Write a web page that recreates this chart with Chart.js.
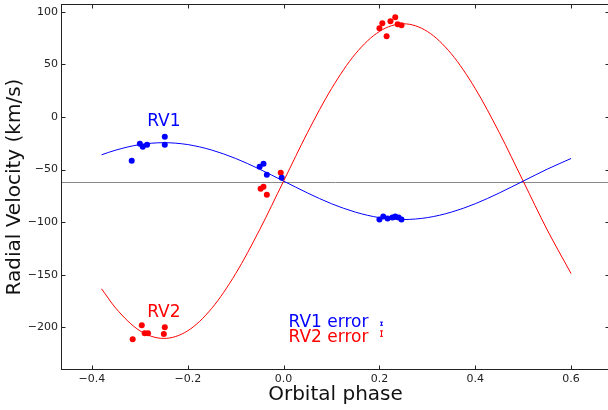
<!DOCTYPE html>
<html>
<head>
<meta charset="utf-8">
<script src="https://cdn.jsdelivr.net/npm/chart.js@4.4.0/dist/chart.umd.min.js"></script>
<style>
html, body { margin: 0; padding: 0; background: #fff; overflow: hidden; }
#wrap { width: 608px; height: 410px; overflow: hidden; }
</style>
</head>
<body>
<div id="wrap"><canvas id="rv" width="616" height="410"></canvas></div>
<script>
const rv1Phase = [-0.317, -0.300, -0.294, -0.285, -0.248, -0.248, -0.050, -0.042, -0.035, -0.004,
                  0.200, 0.208, 0.217, 0.227, 0.233, 0.240, 0.246];
const rv1Vel = [-41.7, -25.6, -28.4, -26.5, -18.9, -26.5, -47.3, -44.5, -54.9, -57.8,
                -97.5, -94.7, -96.6, -95.6, -94.7, -95.6, -97.5];
const rv2Phase = [-0.315, -0.296, -0.290, -0.283, -0.248, -0.250, -0.048, -0.042, -0.035, -0.006,
                  0.200, 0.206, 0.215, 0.223, 0.233, 0.238, 0.246];
const rv2Vel = [-211.2, -197.9, -205.5, -205.5, -199.8, -206.4, -68.2, -66.3, -73.9, -53.0,
                84.3, 89.0, 76.7, 90.9, 94.7, 88.1, 87.1];

const fitPhase = [-0.38, -0.35, -0.30, -0.25, -0.20, -0.15, -0.10, -0.05, 0.00, 0.05, 0.10,
                  0.15, 0.20, 0.25, 0.30, 0.35, 0.40, 0.45, 0.50, 0.55, 0.60];
const fit1 = [-36.0, -31.5, -26.3, -24.5, -26.3, -31.5, -39.5, -49.7, -61.0, -72.3, -82.5,
              -90.5, -95.7, -97.5, -95.7, -90.5, -82.5, -72.3, -61.0, -49.7, -39.5];
const fit2 = [-163.3, -181.9, -203.2, -210.5, -203.2, -181.9, -148.9, -107.2, -61.0, -14.8, 26.9,
              60.0, 81.2, 88.5, 81.2, 60.0, 26.9, -14.8, -61.0, -107.2, -148.9];

const gammaVel = -61.5;
const xTicks = [-0.4, -0.2, 0.0, 0.2, 0.4, 0.6];
const yTicks = [-200, -150, -100, -50, 0, 50, 100];

// typical error bars shown in the lower middle
const errPhase = 0.204;
const rv1ErrVel = -196.5, rv1Err = 1.5;
const rv2ErrVel = -205.9, rv2Err = 2.6;

const BLUE = '#0000ff';
const RED = '#ff0000';
const FONT = 'DejaVu Sans';

function pts(xs, ys) {
    return xs.map((x, i) => ({ x: x, y: ys[i] }));
}

function minus(s) {
    return String(s).replace('-', '\u2212');
}

const decor = {
    id: 'decor',
    beforeDatasetsDraw(chart) {
        const { ctx, chartArea: a, scales: { y } } = chart;
        const gy = Math.round(y.getPixelForValue(gammaVel)) + 0.5;
        ctx.save();
        ctx.strokeStyle = '#888';
        ctx.lineWidth = 1;
        ctx.beginPath();
        ctx.moveTo(a.left, gy);
        ctx.lineTo(a.right, gy);
        ctx.stroke();
        ctx.restore();
    },
    afterDatasetsDraw(chart) {
        const { ctx, scales: { x, y } } = chart;
        ctx.save();
        ctx.font = '17px "' + FONT + '"';
        ctx.textBaseline = 'middle';
        ctx.textAlign = 'center';
        ctx.fillStyle = BLUE;
        ctx.fillText('RV1', x.getPixelForValue(-0.25), y.getPixelForValue(-4.5));
        ctx.fillStyle = RED;
        ctx.fillText('RV2', x.getPixelForValue(-0.25), y.getPixelForValue(-185.5));

        ctx.textAlign = 'left';
        ctx.fillStyle = BLUE;
        ctx.fillText('RV1 error', x.getPixelForValue(0.0104), y.getPixelForValue(-195.5));
        ctx.fillStyle = RED;
        ctx.fillText('RV2 error', x.getPixelForValue(0.0104), y.getPixelForValue(-209.5));

        // error bars
        const ex = Math.round(x.getPixelForValue(errPhase)) + 0.5;
        [[rv1ErrVel, rv1Err, BLUE], [rv2ErrVel, rv2Err, RED]].forEach(([v, e, c]) => {
            const t = y.getPixelForValue(v + e), b = y.getPixelForValue(v - e);
            ctx.strokeStyle = c;
            ctx.lineWidth = 1;
            ctx.beginPath();
            ctx.moveTo(ex, t); ctx.lineTo(ex, b);
            ctx.moveTo(ex - 1.5, t); ctx.lineTo(ex + 1.5, t);
            ctx.moveTo(ex - 1.5, b); ctx.lineTo(ex + 1.5, b);
            ctx.stroke();
        });
        ctx.restore();
    },
    afterDraw(chart) {
        const { ctx, chartArea: a, scales: { x, y } } = chart;
        const L = a.left + 0.5, R = a.right - 0.5, T = a.top + 0.5, B = a.bottom - 0.5;
        ctx.save();
        ctx.strokeStyle = '#222';
        ctx.lineWidth = 1;
        ctx.strokeRect(L, T, R - L, B - T);
        ctx.beginPath();
        xTicks.forEach(v => {
            const px = Math.round(x.getPixelForValue(v)) + 0.5;
            ctx.moveTo(px, B); ctx.lineTo(px, B - 4);
            ctx.moveTo(px, T); ctx.lineTo(px, T + 4);
        });
        yTicks.forEach(v => {
            const py = Math.round(y.getPixelForValue(v)) + 0.5;
            ctx.moveTo(L, py); ctx.lineTo(L + 4, py);
            ctx.moveTo(R, py); ctx.lineTo(R - 4, py);
        });
        ctx.stroke();
        ctx.restore();
    }
};

new Chart(document.getElementById('rv'), {
    type: 'scatter',
    data: {
        datasets: [
            {
                data: pts(fitPhase, fit1), showLine: true, borderColor: BLUE, borderWidth: 1,
                pointRadius: 0, cubicInterpolationMode: 'monotone', fill: false
            },
            {
                data: pts(fitPhase, fit2), showLine: true, borderColor: RED, borderWidth: 1,
                pointRadius: 0, cubicInterpolationMode: 'monotone', fill: false
            },
            {
                data: pts(rv1Phase, rv1Vel), pointRadius: 3, backgroundColor: BLUE,
                borderColor: BLUE, borderWidth: 0
            },
            {
                data: pts(rv2Phase, rv2Vel), pointRadius: 3, backgroundColor: RED,
                borderColor: RED, borderWidth: 0
            }
        ]
    },
    options: {
        responsive: false,
        animation: false,
        layout: { padding: { top: 3, right: 6, left: 0, bottom: 0 } },
        plugins: { legend: { display: false }, tooltip: { enabled: false } },
        scales: {
            x: {
                type: 'linear',
                min: -0.4646,
                max: 0.6812,
                grid: { display: false, drawTicks: false },
                border: { display: false },
                afterBuildTicks: s => { s.ticks = xTicks.map(v => ({ value: v })); },
                afterFit: s => { s.height = 40; s.paddingLeft = 0; s.paddingRight = 0; },
                ticks: {
                    color: '#222', padding: 3, maxRotation: 0,
                    font: { family: FONT, size: 11 },
                    callback: v => minus(Number(v).toFixed(1))
                },
                title: {
                    display: true, text: 'Orbital phase', color: '#111',
                    font: { family: FONT, size: 20 }, padding: { top: 0, bottom: 3 }
                }
            },
            y: {
                type: 'linear',
                min: -240.5,
                max: 107.3,
                grid: { display: false, drawTicks: false },
                border: { display: false },
                afterBuildTicks: s => { s.ticks = yTicks.map(v => ({ value: v })); },
                afterFit: s => { s.width = 61; s.paddingTop = 0; s.paddingBottom = 0; },
                ticks: {
                    color: '#222', padding: 3,
                    font: { family: FONT, size: 11 },
                    callback: v => minus(Math.round(v))
                },
                title: {
                    display: true, text: 'Radial Velocity (km/s)', color: '#111',
                    font: { family: FONT, size: 20 }, padding: { top: 3, bottom: 0 }
                }
            }
        }
    },
    plugins: [decor]
});
</script>
</body>
</html>
